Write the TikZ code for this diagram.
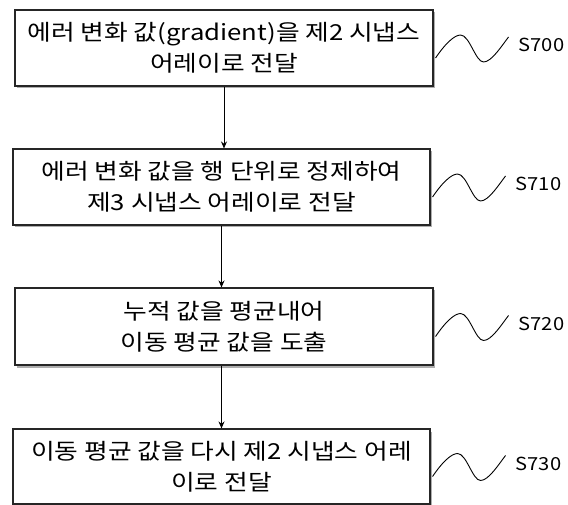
\documentclass[tikz,border=0pt]{standalone}
\usepackage{fontspec}
\setmainfont{Noto Sans CJK KR}[FakeStretch=1.17]
\newfontfamily\lblfont{Noto Sans CJK KR}[FakeStretch=1.12]
\usetikzlibrary{arrows.meta,shadows}
\begin{document}
\begin{tikzpicture}[x=1pt,y=-1pt,
  stepbox/.style={draw=black!85, line width=1.1pt, fill=white,
    drop shadow={shadow xshift=2pt,shadow yshift=-2.5pt,fill=black!45,opacity=0.7},
    inner sep=0pt, align=center, font=\fontsize{22}{31}\selectfont},
  flow/.style={line width=0.9pt, -{Stealth[length=7pt,width=6pt]}},
  squig/.style={line width=0.9pt},
  lbl/.style={anchor=west, font=\lblfont\fontsize{18}{20}\selectfont, inner sep=0pt}]
\useasboundingbox (0,0) rectangle (568,505);
\node[stepbox, minimum width=418pt, minimum height=76pt] (b1) at (224,48)
  {에러 변화 값(gradient)을 제2 시냅스\\어레이로 전달};
\node[stepbox, minimum width=417pt, minimum height=76pt] (b2) at (221.5,187)
  {에러 변화 값을 행 단위로 정제하여\\제3 시냅스 어레이로 전달};
\node[stepbox, minimum width=418pt, minimum height=77pt] (b3) at (224,326.5)
  {누적 값을 평균내어\\이동 평균 값을 도출};
\node[stepbox, minimum width=417pt, minimum height=75pt] (b4) at (221.5,466.5)
  {이동 평균 값을 다시 제2 시냅스 어레\\이로 전달};
\draw[flow] (b1.south) -- (b1.south |- b2.north);
\draw[flow] (b2.south) -- (b2.south |- b3.north);
\draw[flow] (b3.south -| b4.north) -- (b4.north);
\foreach \b/\t in {b1/S700,b2/S710,b3/S720,b4/S730}{
  \begin{scope}[shift={(\b.east)}]
    \draw[squig] (2,10) .. controls (10,-2) and (20,-13) .. (27,-13)
      .. controls (36,-13) and (42,14) .. (50,14)
      .. controls (58,14) and (68,-2) .. (75,-11);
    \node[lbl] (l\b) at (85,-3) {\t};
  \end{scope}
}
\end{tikzpicture}
\end{document}
